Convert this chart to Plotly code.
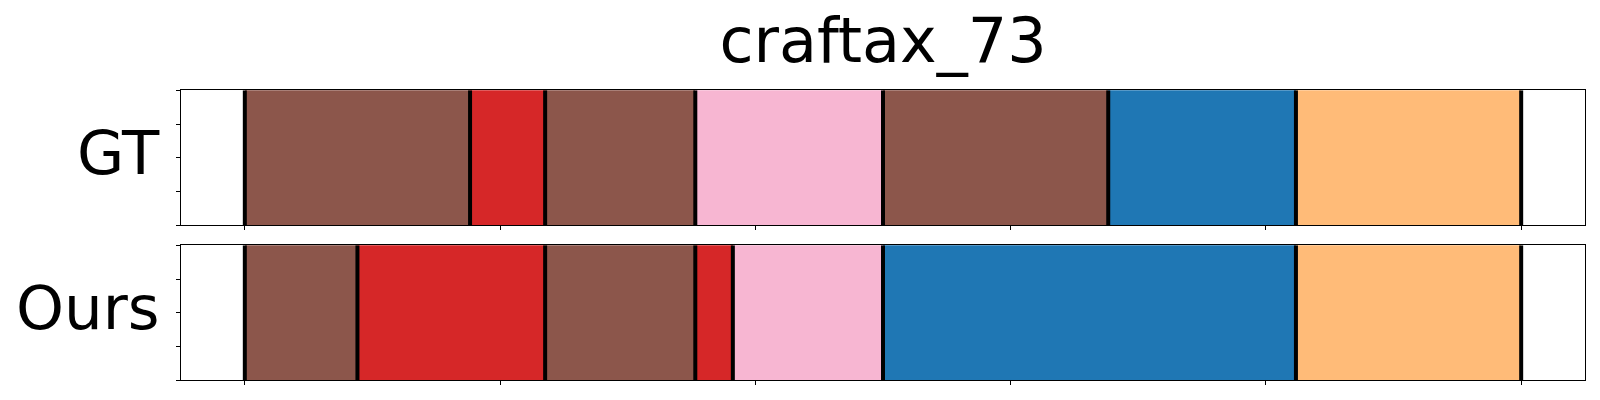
import plotly.graph_objects as go
from plotly.subplots import make_subplots

title_text = "craftax_73"
row_labels = ["GT", "Ours"]
total_frames = 34

gt_starts = [0, 6, 8, 12, 17, 23, 28]
gt_ends = [6, 8, 12, 17, 23, 28, 34]
gt_colors = ["#8c564b", "#d62728", "#8c564b", "#f7b6d2", "#8c564b", "#1f77b4", "#ffbb78"]

ours_starts = [0, 3, 8, 12, 13, 17, 28]
ours_ends = [3, 8, 12, 13, 17, 28, 34]
ours_colors = ["#8c564b", "#d62728", "#8c564b", "#d62728", "#f7b6d2", "#1f77b4", "#ffbb78"]

x_ticks = [0, 0.2, 0.4, 0.6, 0.8, 1.0]
y_ticks = [0, 0.25, 0.5, 0.75, 1.0]

W, H = 1600, 400
ax_left, ax_right = 181, 1585
gt_top, gt_bot = 90.3, 225.3
ours_top, ours_bot = 245.3, 380.3

fig = make_subplots(rows=2, cols=1)

rows = [(gt_starts, gt_ends, gt_colors), (ours_starts, ours_ends, ours_colors)]
for r, (starts, ends, colors) in enumerate(rows, start=1):
    for s, e, c in zip(starts, ends, colors):
        fig.add_trace(go.Bar(
            x=[(e - s) / total_frames], base=[s / total_frames], y=[0.5], width=[1.0],
            orientation="h", marker=dict(color=c, line=dict(width=0)),
            showlegend=False, hoverinfo="skip"), row=r, col=1)
    bounds = list(starts) + [ends[-1]]
    xs, ys = [], []
    for b in bounds:
        xs += [b / total_frames, b / total_frames, None]
        ys += [0, 1, None]
    fig.add_trace(go.Scatter(x=xs, y=ys, mode="lines",
                             line=dict(color="black", width=4),
                             showlegend=False, hoverinfo="skip"), row=r, col=1)

def pdom(top, bot):
    return [1 - bot / H, 1 - top / H]

axis_common = dict(showline=True, linecolor="black", linewidth=1.2, mirror=True,
                   ticks="outside", ticklen=4, tickwidth=1, tickcolor="black",
                   showticklabels=False, showgrid=False, zeroline=False)

fig.update_layout(
    width=W, height=H, barmode="overlay", bargap=0,
    plot_bgcolor="white", paper_bgcolor="white",
    margin=dict(l=ax_left, r=W - ax_right, t=0, b=0),
    font=dict(family="DejaVu Sans", color="black"),
    title=dict(text=title_text, x=0.5 * (ax_left + ax_right) / W, xanchor="center",
               yref="container", y=1 - 40 / H, yanchor="middle",
               font=dict(size=62, family="DejaVu Sans", color="black")),
    xaxis=dict(range=[-0.05, 1.05], tickvals=x_ticks, **axis_common),
    xaxis2=dict(range=[-0.05, 1.05], tickvals=x_ticks, **axis_common),
    yaxis=dict(range=[0, 1], tickvals=y_ticks, domain=pdom(gt_top, gt_bot), **axis_common),
    yaxis2=dict(range=[0, 1], tickvals=y_ticks, domain=pdom(ours_top, ours_bot), **axis_common),
)

for lab, (top, bot) in zip(row_labels, [(gt_top, gt_bot), (ours_top, ours_bot)]):
    fig.add_annotation(text=lab, xref="paper", yref="paper", x=0, xanchor="right",
                       xshift=-19, yshift=5, y=1 - (top + bot) / 2 / H, yanchor="middle",
                       showarrow=False, font=dict(size=61, family="DejaVu Sans", color="black"))

fig.write_html("out.html", config={"displayModeBar": False},
               post_script="document.body.style.margin='0';document.body.style.overflow='hidden';")
